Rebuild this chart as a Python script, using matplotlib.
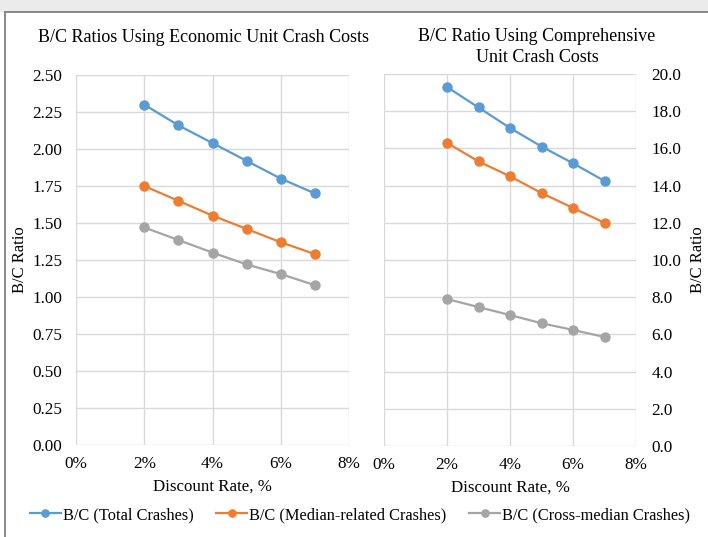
import matplotlib
matplotlib.use("Agg")
import matplotlib.pyplot as plt
from matplotlib.patches import Rectangle
from matplotlib.ticker import FuncFormatter, MultipleLocator

plt.rcParams['font.family'] = ['Liberation Serif', 'DejaVu Serif']

# discount rates (%)
rates = [2, 3, 4, 5, 6, 7]

# B/C ratios with economic unit crash costs
econ_total = [2.30, 2.16, 2.04, 1.92, 1.80, 1.70]
econ_median = [1.75, 1.65, 1.55, 1.46, 1.37, 1.29]
econ_cross = [1.47, 1.385, 1.30, 1.22, 1.155, 1.08]

# B/C ratios with comprehensive unit crash costs
comp_total = [19.3, 18.2, 17.1, 16.1, 15.2, 14.25]
comp_median = [16.3, 15.3, 14.5, 13.6, 12.8, 12.0]
comp_cross = [7.9, 7.47, 7.04, 6.6, 6.24, 5.86]

series_names = ['B/C (Total Crashes)', 'B/C (Median-related Crashes)',
                'B/C (Cross-median Crashes)']
colors = ['#5b9bd5', '#ed7d31', '#a5a5a5']

W, H = 708, 537
fig = plt.figure(figsize=(W / 100, H / 100), dpi=100)


def px_axes(x0, y0, x1, y1):
    return fig.add_axes([x0 / W, 1 - y1 / H, (x1 - x0) / W, (y1 - y0) / H])


# header strip and chart border
fig.patches.append(Rectangle((0, 1 - 12 / H), 1, 12 / H, transform=fig.transFigure,
                             facecolor='#e9ecea', edgecolor='none', zorder=-2))
fig.patches.append(Rectangle((5 / W, -0.05), 1.2, 1 - 12 / H + 0.05,
                             transform=fig.transFigure, facecolor='white',
                             edgecolor='#7f7f7f', linewidth=1.3, zorder=-1))


def style_axes(ax):
    ax.patch.set_alpha(0)
    for s in ax.spines.values():
        s.set_visible(False)
    ax.grid(True, color='#d9d9d9', linewidth=1.0)
    ax.set_axisbelow(True)
    ax.tick_params(length=0, labelsize=12.3, colors='black')
    ax.set_xlim(0, 8)
    ax.xaxis.set_major_locator(MultipleLocator(2))
    ax.xaxis.set_major_formatter(FuncFormatter(lambda v, p: f'{v:.0f}%'))
    ax.tick_params(axis='x', pad=8)
    ax.set_xlabel('Discount Rate, %', fontsize=12.2, labelpad=5)


ax1 = px_axes(76, 75, 349, 445)
style_axes(ax1)
for vals, c, n in zip([econ_total, econ_median, econ_cross], colors, series_names):
    ax1.plot(rates, vals, color=c, lw=1.6, marker='o', ms=6.5, label=n)
ax1.set_ylim(0, 2.5)
ax1.yaxis.set_major_locator(MultipleLocator(0.25))
ax1.yaxis.set_major_formatter(FuncFormatter(lambda v, p: f'{v:.2f}'))
ax1.tick_params(axis='y', pad=10)
ax1.set_ylabel('B/C Ratio', fontsize=12, labelpad=3)

ax2 = px_axes(384, 74, 636, 446)
style_axes(ax2)
for vals, c, n in zip([comp_total, comp_median, comp_cross], colors, series_names):
    ax2.plot(rates, vals, color=c, lw=1.6, marker='o', ms=6.5, label=n)
ax2.set_ylim(0, 20)
ax2.yaxis.set_major_locator(MultipleLocator(2))
ax2.yaxis.set_major_formatter(FuncFormatter(lambda v, p: f'{v:.1f}'))
ax2.yaxis.tick_right()
ax2.yaxis.set_label_position('right')
ax2.tick_params(axis='y', pad=11)
ax2.set_ylabel('B/C Ratio', fontsize=12, labelpad=6)

# panel titles
fig.text(203 / W, 1 - 37 / H, 'B/C Ratios Using Economic Unit Crash Costs',
         fontsize=13, ha='center', va='center')
fig.text(537 / W, 1 - 47 / H, 'B/C Ratio Using Comprehensive\nUnit Crash Costs',
         fontsize=13, ha='center', va='center', linespacing=1.3)

handles, labels = ax1.get_legend_handles_labels()
fig.legend(handles, labels, loc='center', bbox_to_anchor=(360 / W, 1 - 515 / H),
           ncol=3, frameon=False, fontsize=11.8, handlelength=1.9,
           handletextpad=0.1, columnspacing=1.4, markerscale=0.8)

fig.savefig('out.png', dpi=100)
